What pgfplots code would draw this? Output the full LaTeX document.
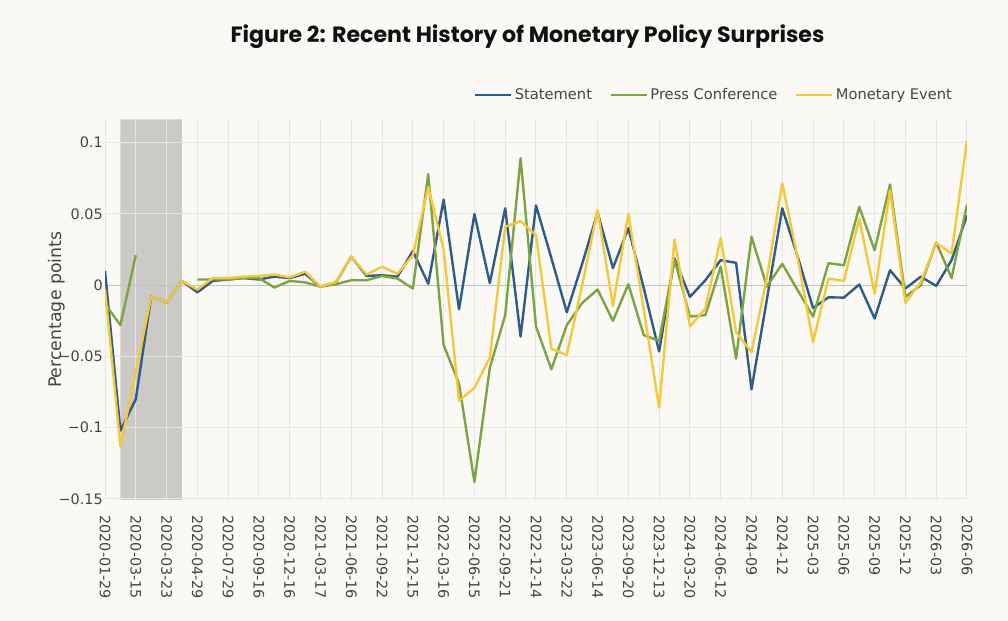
\documentclass[border=0pt]{standalone}
\usepackage{pgfplots}
\pgfplotsset{compat=1.18}
\usepackage{pgfplotstable}
\usepackage{fontspec}
\setmainfont{DejaVu Sans}
\newfontfamily\titlefont{Poppins}
\definecolor{bg}{HTML}{FAF9F5}
\definecolor{shadec}{HTML}{CBCAC6}
\definecolor{gridc}{HTML}{E6E6E4}
\definecolor{zeroc}{HTML}{C2C2C2}
\definecolor{tickc}{HTML}{444444}
\definecolor{titlec}{HTML}{111111}
\definecolor{sblue}{HTML}{2F5B88}
\definecolor{pgreen}{HTML}{7DA443}
\definecolor{myellow}{HTML}{F4C83A}
\pagecolor{bg}
\pgfplotstableread{
i S P M
0 0.010 -0.013 -0.003
1 -0.102 -0.028 -0.113
2 -0.080 0.021 -0.061
3 -0.008 nan -0.008
4 -0.012 nan -0.012
5 0.003 nan 0.003
6 -0.005 0.004 -0.003
7 0.003 0.004 0.005
8 0.004 0.004 0.005
9 0.005 0.005 0.006
10 0.004 0.005 0.0065
11 0.006 -0.0016 0.0075
12 0.005 0.003 0.0055
13 0.008 0.002 0.0095
14 -0.001 -0.001 -0.001
15 0.002 0.0007 0.0023
16 0.020 0.0035 0.020
17 0.0065 0.0035 0.0075
18 0.007 0.0065 0.013
19 0.006 0.0047 0.008
20 0.024 -0.0023 0.021
21 0.001 0.078 0.069
22 0.060 -0.042 0.025
23 -0.017 -0.069 -0.081
24 0.050 -0.138 -0.072
25 0.0015 -0.058 -0.051
26 0.054 -0.021 0.041
27 -0.036 0.089 0.045
28 0.056 -0.029 0.035
29 0.019 -0.059 -0.0445
30 -0.019 -0.028 -0.049
31 0.015 -0.0125 0.000
32 0.051 -0.003 0.0527
33 0.012 -0.025 -0.0145
34 0.040 0.0007 0.050
35 -0.002 -0.035 -0.017
36 -0.0465 -0.039 -0.086
37 0.0187 0.018 0.032
38 -0.0082 -0.022 -0.029
39 0.0035 -0.021 -0.0164
40 0.0176 0.013 0.033
41 0.0157 -0.0515 -0.033
42 -0.073 0.034 -0.047
43 -0.010 -0.001 0.005
44 0.054 0.015 0.0714
45 0.020 -0.0035 0.019
46 -0.016 -0.022 -0.040
47 -0.0085 0.0155 0.0047
48 -0.0087 0.014 0.003
49 0.0005 0.055 0.0468
50 -0.0234 0.0246 -0.006
51 0.0105 0.0707 0.0667
52 -0.0023 -0.0082 -0.0124
53 0.006 0.000 0.0023
54 -0.0005 0.030 0.0297
55 0.0176 0.005 0.0222
56 0.049 0.0566 0.1018
}\datatable
\begin{document}
\begin{tikzpicture}
\path (0,0) rectangle (756pt,465.75pt);
\node[font=\titlefont\bfseries\fontsize{16.6}{20}\selectfont, text=titlec] at (395.6pt,438pt) {Figure 2: Recent History of Monetary Policy Surprises};
\begin{axis}[
  set layers,
  at={(78.75pt,90.75pt)}, anchor=south west,
  scale only axis, width=646.5pt, height=285.4pt,
  xmin=0, xmax=56, ymin=-0.1507, ymax=0.1163,
  axis line style={draw=none},
  tick style={draw=none},
  xtick={0,2,...,56},
  xticklabels={2020-01-29,2020-03-15,2020-03-23,2020-04-29,2020-07-29,2020-09-16,2020-12-16,2021-03-17,2021-06-16,2021-09-22,2021-12-15,2022-03-16,2022-06-15,2022-09-21,2022-12-14,2023-03-22,2023-06-14,2023-09-20,2023-12-13,2024-03-20,2024-06-12,2024-09,2024-12,2025-03,2025-06,2025-09,2025-12,2026-03,2026-06},
  ytick={-0.15,-0.1,-0.05,0.05,0.1},
  yticklabels={−0.15,−0.1,−0.05,0.05,0.1},
  extra y ticks={0},
  extra y tick labels={0},
  extra y tick style={major grid style={zeroc, line width=0.8pt}},
  grid=major,
  major grid style={gridc, line width=0.75pt},
  ticklabel style={font=\fontsize{10.8}{13}\selectfont, text=tickc},
  xticklabel style={rotate=-90, anchor=west},
  xticklabel shift=8pt,
  yticklabel style={inner xsep=1.5pt},
  ylabel={Percentage points},
  ylabel style={font=\fontsize{13}{15}\selectfont, text=tickc, at={(axis description cs:-0.0557,0.5)}, anchor=center},
  unbounded coords=jump,
  legend columns=3,
  legend style={draw=none, fill=none, at={(axis description cs:0.986,1.0644)}, anchor=east,
    font=\fontsize{11}{13}\selectfont, text=tickc, inner sep=0pt,
    /tikz/every even column/.append style={column sep=11pt}},
  legend image code/.code={\draw[#1] (0pt,0pt) -- (27pt,0pt);},
]
\addplot[fill=shadec, draw=none, on layer=axis background, forget plot] coordinates {(1,-0.1507) (5,-0.1507) (5,0.1163) (1,0.1163) (1,-0.1507)};
\addplot[sblue, line width=1.8pt, line join=round] table[x=i, y=S] {\datatable};
\addlegendentry{Statement}
\addplot[pgreen, line width=1.8pt, line join=round] table[x=i, y=P] {\datatable};
\addlegendentry{Press Conference}
\addplot[myellow, line width=1.8pt, line join=round] table[x=i, y=M] {\datatable};
\addlegendentry{Monetary Event}
\end{axis}
\end{tikzpicture}
\end{document}
